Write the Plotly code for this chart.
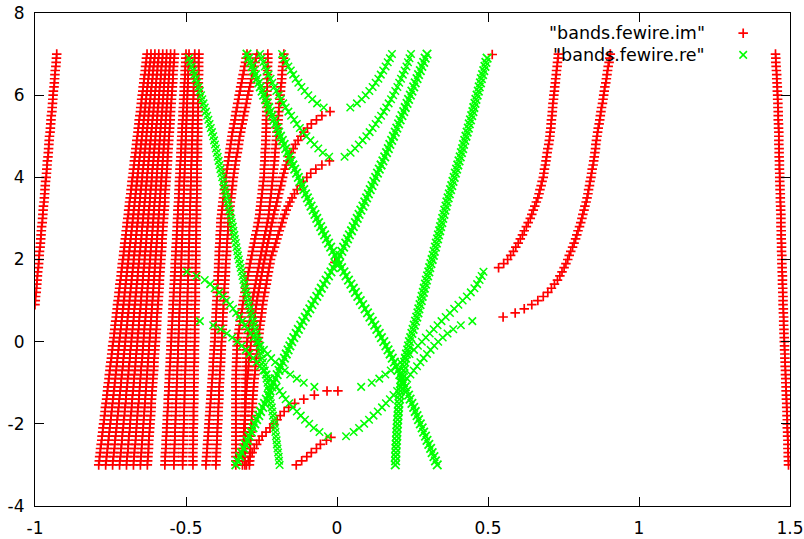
import plotly.graph_objects as go

# ---------------- data ----------------
# energy grid (y axis), shared by all bands
energy = [-3.0, -2.9, -2.8, -2.7, -2.6, -2.5, -2.4, -2.3, -2.2, -2.1,
          -2.0, -1.9, -1.8, -1.7, -1.6, -1.5, -1.4, -1.3, -1.2, -1.1,
          -1.0, -0.9, -0.8, -0.7, -0.6, -0.5, -0.4, -0.3, -0.2, -0.1,
          0.0, 0.1, 0.2, 0.3, 0.4, 0.5, 0.6, 0.7, 0.8, 0.9,
          1.0, 1.1, 1.2, 1.3, 1.4, 1.5, 1.6, 1.7, 1.8, 1.9,
          2.0, 2.1, 2.2, 2.3, 2.4, 2.5, 2.6, 2.7, 2.8, 2.9,
          3.0, 3.1, 3.2, 3.3, 3.4, 3.5, 3.6, 3.7, 3.8, 3.9,
          4.0, 4.1, 4.2, 4.3, 4.4, 4.5, 4.6, 4.7, 4.8, 4.9,
          5.0, 5.1, 5.2, 5.3, 5.4, 5.5, 5.6, 5.7, 5.8, 5.9,
          6.0, 6.1, 6.2, 6.3, 6.4, 6.5, 6.6, 6.7, 6.8, 6.9,
          7.0]

x_ticks = [-1, -0.5, 0, 0.5, 1, 1.5]
x_ticklabels = ["-1", "-0.5", "0", "0.5", "1", "1.5"]
y_ticks = [-4, -2, 0, 2, 4, 6, 8]
y_ticklabels = ["-4", "-2", "0", "2", "4", "6", "8"]

series_names = ['"bands.fewire.im"', '"bands.fewire.re"']

# ---- "bands.fewire.im" (red) : each band = x values starting at the given energy ----
im_R1_from = 0.9
im_R1 = [-1.000, -0.999, -0.998, -0.996, -0.995, -0.994, -0.993, -0.992, -0.991, -0.989,
         -0.988, -0.987, -0.986, -0.985, -0.983, -0.982, -0.981, -0.980, -0.979, -0.978,
         -0.976, -0.975, -0.974, -0.973, -0.972, -0.970, -0.969, -0.968, -0.967, -0.966,
         -0.965, -0.963, -0.962, -0.961, -0.960, -0.959, -0.957, -0.956, -0.955, -0.954,
         -0.953, -0.952, -0.950, -0.949, -0.948, -0.947, -0.946, -0.944, -0.943, -0.942,
         -0.941, -0.940, -0.939, -0.937, -0.936, -0.935, -0.934, -0.933, -0.931, -0.930,
         -0.929, -0.928]

im_A1 = [-0.789, -0.787, -0.786, -0.784, -0.783, -0.781, -0.779, -0.778, -0.776, -0.775,
         -0.773, -0.771, -0.770, -0.768, -0.767, -0.765, -0.763, -0.762, -0.760, -0.759,
         -0.757, -0.755, -0.754, -0.752, -0.751, -0.749, -0.747, -0.746, -0.744, -0.743,
         -0.741, -0.739, -0.738, -0.736, -0.735, -0.733, -0.731, -0.730, -0.728, -0.727,
         -0.725, -0.723, -0.722, -0.720, -0.719, -0.717, -0.715, -0.714, -0.712, -0.711,
         -0.709, -0.707, -0.706, -0.704, -0.703, -0.701, -0.699, -0.698, -0.696, -0.695,
         -0.693, -0.691, -0.690, -0.688, -0.687, -0.685, -0.683, -0.682, -0.680, -0.679,
         -0.677, -0.675, -0.674, -0.672, -0.671, -0.669, -0.667, -0.666, -0.664, -0.663,
         -0.661, -0.659, -0.658, -0.656, -0.655, -0.653, -0.651, -0.650, -0.648, -0.647,
         -0.645, -0.643, -0.642, -0.640, -0.639, -0.637, -0.635, -0.634, -0.632, -0.631,
         -0.629]
im_A2 = [-0.766, -0.764, -0.763, -0.761, -0.760, -0.758, -0.757, -0.755, -0.754, -0.752,
         -0.751, -0.749, -0.748, -0.746, -0.745, -0.743, -0.742, -0.740, -0.739, -0.737,
         -0.736, -0.734, -0.733, -0.731, -0.730, -0.728, -0.727, -0.725, -0.724, -0.722,
         -0.721, -0.719, -0.718, -0.716, -0.715, -0.713, -0.712, -0.710, -0.709, -0.707,
         -0.706, -0.704, -0.703, -0.701, -0.700, -0.698, -0.697, -0.695, -0.694, -0.692,
         -0.691, -0.689, -0.688, -0.686, -0.685, -0.683, -0.682, -0.680, -0.679, -0.677,
         -0.676, -0.674, -0.673, -0.671, -0.670, -0.668, -0.667, -0.665, -0.664, -0.662,
         -0.661, -0.659, -0.658, -0.656, -0.655, -0.653, -0.652, -0.650, -0.649, -0.647,
         -0.646, -0.644, -0.643, -0.641, -0.640, -0.638, -0.637, -0.635, -0.634, -0.632,
         -0.631, -0.629, -0.628, -0.626, -0.625, -0.623, -0.622, -0.620, -0.619, -0.617,
         -0.616]
im_A3 = [-0.743, -0.742, -0.740, -0.739, -0.737, -0.736, -0.735, -0.733, -0.732, -0.730,
         -0.729, -0.728, -0.726, -0.725, -0.723, -0.722, -0.721, -0.719, -0.718, -0.716,
         -0.715, -0.714, -0.712, -0.711, -0.709, -0.708, -0.707, -0.705, -0.704, -0.702,
         -0.701, -0.700, -0.698, -0.697, -0.695, -0.694, -0.693, -0.691, -0.690, -0.688,
         -0.687, -0.686, -0.684, -0.683, -0.681, -0.680, -0.679, -0.677, -0.676, -0.674,
         -0.673, -0.672, -0.670, -0.669, -0.667, -0.666, -0.665, -0.663, -0.662, -0.660,
         -0.659, -0.658, -0.656, -0.655, -0.653, -0.652, -0.651, -0.649, -0.648, -0.646,
         -0.645, -0.644, -0.642, -0.641, -0.639, -0.638, -0.637, -0.635, -0.634, -0.632,
         -0.631, -0.630, -0.628, -0.627, -0.625, -0.624, -0.623, -0.621, -0.620, -0.618,
         -0.617, -0.616, -0.614, -0.613, -0.611, -0.610, -0.609, -0.607, -0.606, -0.604,
         -0.603]
im_A4 = [-0.720, -0.719, -0.717, -0.716, -0.715, -0.713, -0.712, -0.711, -0.710, -0.708,
         -0.707, -0.706, -0.704, -0.703, -0.702, -0.700, -0.699, -0.698, -0.697, -0.695,
         -0.694, -0.693, -0.691, -0.690, -0.689, -0.687, -0.686, -0.685, -0.684, -0.682,
         -0.681, -0.680, -0.678, -0.677, -0.676, -0.674, -0.673, -0.672, -0.671, -0.669,
         -0.668, -0.667, -0.665, -0.664, -0.663, -0.661, -0.660, -0.659, -0.658, -0.656,
         -0.655, -0.654, -0.652, -0.651, -0.650, -0.648, -0.647, -0.646, -0.645, -0.643,
         -0.642, -0.641, -0.639, -0.638, -0.637, -0.635, -0.634, -0.633, -0.632, -0.630,
         -0.629, -0.628, -0.626, -0.625, -0.624, -0.622, -0.621, -0.620, -0.619, -0.617,
         -0.616, -0.615, -0.613, -0.612, -0.611, -0.609, -0.608, -0.607, -0.606, -0.604,
         -0.603, -0.602, -0.600, -0.599, -0.598, -0.596, -0.595, -0.594, -0.593, -0.591,
         -0.590]
im_A5 = [-0.697, -0.696, -0.695, -0.693, -0.692, -0.691, -0.690, -0.689, -0.687, -0.686,
         -0.685, -0.684, -0.683, -0.681, -0.680, -0.679, -0.678, -0.677, -0.675, -0.674,
         -0.673, -0.672, -0.671, -0.669, -0.668, -0.667, -0.666, -0.665, -0.663, -0.662,
         -0.661, -0.660, -0.659, -0.657, -0.656, -0.655, -0.654, -0.653, -0.651, -0.650,
         -0.649, -0.648, -0.647, -0.645, -0.644, -0.643, -0.642, -0.641, -0.639, -0.638,
         -0.637, -0.636, -0.635, -0.633, -0.632, -0.631, -0.630, -0.629, -0.627, -0.626,
         -0.625, -0.624, -0.623, -0.621, -0.620, -0.619, -0.618, -0.617, -0.615, -0.614,
         -0.613, -0.612, -0.611, -0.609, -0.608, -0.607, -0.606, -0.605, -0.603, -0.602,
         -0.601, -0.600, -0.599, -0.597, -0.596, -0.595, -0.594, -0.593, -0.591, -0.590,
         -0.589, -0.588, -0.587, -0.585, -0.584, -0.583, -0.582, -0.581, -0.579, -0.578,
         -0.577]
im_A6 = [-0.674, -0.673, -0.672, -0.671, -0.670, -0.668, -0.667, -0.666, -0.665, -0.664,
         -0.663, -0.662, -0.661, -0.660, -0.659, -0.657, -0.656, -0.655, -0.654, -0.653,
         -0.652, -0.651, -0.650, -0.649, -0.648, -0.646, -0.645, -0.644, -0.643, -0.642,
         -0.641, -0.640, -0.639, -0.638, -0.637, -0.635, -0.634, -0.633, -0.632, -0.631,
         -0.630, -0.629, -0.628, -0.627, -0.626, -0.624, -0.623, -0.622, -0.621, -0.620,
         -0.619, -0.618, -0.617, -0.616, -0.615, -0.613, -0.612, -0.611, -0.610, -0.609,
         -0.608, -0.607, -0.606, -0.605, -0.604, -0.602, -0.601, -0.600, -0.599, -0.598,
         -0.597, -0.596, -0.595, -0.594, -0.593, -0.591, -0.590, -0.589, -0.588, -0.587,
         -0.586, -0.585, -0.584, -0.583, -0.582, -0.580, -0.579, -0.578, -0.577, -0.576,
         -0.575, -0.574, -0.573, -0.572, -0.571, -0.569, -0.568, -0.567, -0.566, -0.565,
         -0.564]
im_A7 = [-0.651, -0.650, -0.649, -0.648, -0.647, -0.646, -0.645, -0.644, -0.643, -0.642,
         -0.641, -0.640, -0.639, -0.638, -0.637, -0.636, -0.635, -0.634, -0.633, -0.632,
         -0.631, -0.630, -0.629, -0.628, -0.627, -0.626, -0.625, -0.624, -0.623, -0.622,
         -0.621, -0.620, -0.619, -0.618, -0.617, -0.616, -0.615, -0.614, -0.613, -0.612,
         -0.611, -0.610, -0.609, -0.608, -0.607, -0.606, -0.605, -0.604, -0.603, -0.602,
         -0.601, -0.600, -0.599, -0.598, -0.597, -0.596, -0.595, -0.594, -0.593, -0.592,
         -0.591, -0.590, -0.589, -0.588, -0.587, -0.586, -0.585, -0.584, -0.583, -0.582,
         -0.581, -0.580, -0.579, -0.578, -0.577, -0.576, -0.575, -0.574, -0.573, -0.572,
         -0.571, -0.570, -0.569, -0.568, -0.567, -0.566, -0.565, -0.564, -0.563, -0.562,
         -0.561, -0.560, -0.559, -0.558, -0.557, -0.556, -0.555, -0.554, -0.553, -0.552,
         -0.551]
im_A8 = [-0.628, -0.627, -0.626, -0.625, -0.624, -0.624, -0.623, -0.622, -0.621, -0.620,
         -0.619, -0.618, -0.617, -0.616, -0.615, -0.615, -0.614, -0.613, -0.612, -0.611,
         -0.610, -0.609, -0.608, -0.607, -0.606, -0.606, -0.605, -0.604, -0.603, -0.602,
         -0.601, -0.600, -0.599, -0.598, -0.597, -0.597, -0.596, -0.595, -0.594, -0.593,
         -0.592, -0.591, -0.590, -0.589, -0.588, -0.588, -0.587, -0.586, -0.585, -0.584,
         -0.583, -0.582, -0.581, -0.580, -0.579, -0.579, -0.578, -0.577, -0.576, -0.575,
         -0.574, -0.573, -0.572, -0.571, -0.570, -0.570, -0.569, -0.568, -0.567, -0.566,
         -0.565, -0.564, -0.563, -0.562, -0.561, -0.561, -0.560, -0.559, -0.558, -0.557,
         -0.556, -0.555, -0.554, -0.553, -0.552, -0.552, -0.551, -0.550, -0.549, -0.548,
         -0.547, -0.546, -0.545, -0.544, -0.543, -0.543, -0.542, -0.541, -0.540, -0.539,
         -0.538]
im_B1 = [-0.570, -0.569, -0.569, -0.568, -0.567, -0.566, -0.566, -0.565, -0.564, -0.564,
         -0.563, -0.562, -0.562, -0.561, -0.560, -0.559, -0.559, -0.558, -0.557, -0.557,
         -0.556, -0.555, -0.555, -0.554, -0.553, -0.552, -0.552, -0.551, -0.550, -0.550,
         -0.549, -0.548, -0.548, -0.547, -0.546, -0.545, -0.545, -0.544, -0.543, -0.543,
         -0.542, -0.541, -0.541, -0.540, -0.539, -0.538, -0.538, -0.537, -0.536, -0.536,
         -0.535, -0.534, -0.534, -0.533, -0.532, -0.531, -0.531, -0.530, -0.529, -0.529,
         -0.528, -0.527, -0.527, -0.526, -0.525, -0.524, -0.524, -0.523, -0.522, -0.522,
         -0.521, -0.520, -0.520, -0.519, -0.518, -0.517, -0.517, -0.516, -0.515, -0.515,
         -0.514, -0.513, -0.513, -0.512, -0.511, -0.510, -0.510, -0.509, -0.508, -0.508,
         -0.507, -0.506, -0.506, -0.505, -0.504, -0.503, -0.503, -0.502, -0.501, -0.501,
         -0.500]
im_B2 = [-0.540, -0.540, -0.539, -0.539, -0.538, -0.538, -0.537, -0.537, -0.536, -0.536,
         -0.535, -0.535, -0.534, -0.534, -0.533, -0.533, -0.532, -0.532, -0.531, -0.531,
         -0.530, -0.530, -0.529, -0.529, -0.528, -0.528, -0.527, -0.527, -0.526, -0.526,
         -0.525, -0.525, -0.524, -0.524, -0.523, -0.523, -0.522, -0.522, -0.521, -0.521,
         -0.520, -0.520, -0.519, -0.519, -0.518, -0.518, -0.517, -0.517, -0.516, -0.516,
         -0.515, -0.515, -0.514, -0.514, -0.513, -0.513, -0.512, -0.512, -0.511, -0.511,
         -0.510, -0.510, -0.509, -0.509, -0.508, -0.508, -0.507, -0.507, -0.506, -0.506,
         -0.505, -0.505, -0.504, -0.504, -0.503, -0.503, -0.502, -0.502, -0.501, -0.501,
         -0.500, -0.500, -0.499, -0.499, -0.498, -0.498, -0.497, -0.497, -0.496, -0.496,
         -0.495, -0.495, -0.494, -0.494, -0.493, -0.493, -0.492, -0.492, -0.491, -0.491,
         -0.490]
im_B3 = [-0.511, -0.511, -0.511, -0.510, -0.510, -0.509, -0.509, -0.509, -0.508, -0.508,
         -0.507, -0.507, -0.507, -0.506, -0.506, -0.505, -0.505, -0.505, -0.504, -0.504,
         -0.503, -0.503, -0.503, -0.502, -0.502, -0.501, -0.501, -0.501, -0.500, -0.500,
         -0.499, -0.499, -0.499, -0.498, -0.498, -0.497, -0.497, -0.497, -0.496, -0.496,
         -0.495, -0.495, -0.495, -0.494, -0.494, -0.493, -0.493, -0.493, -0.492, -0.492,
         -0.491, -0.491, -0.491, -0.490, -0.490, -0.489, -0.489, -0.489, -0.488, -0.488,
         -0.487, -0.487, -0.487, -0.486, -0.486, -0.485, -0.485, -0.485, -0.484, -0.484,
         -0.483, -0.483, -0.483, -0.482, -0.482, -0.481, -0.481, -0.481, -0.480, -0.480,
         -0.479, -0.479, -0.479, -0.478, -0.478, -0.477, -0.477, -0.477, -0.476, -0.476,
         -0.475, -0.475, -0.475, -0.474, -0.474, -0.473, -0.473, -0.473, -0.472, -0.472,
         -0.471]
im_B4 = [-0.477, -0.477, -0.477, -0.477, -0.477, -0.476, -0.476, -0.476, -0.476, -0.476,
         -0.475, -0.475, -0.475, -0.475, -0.475, -0.474, -0.474, -0.474, -0.474, -0.474,
         -0.473, -0.473, -0.473, -0.473, -0.473, -0.472, -0.472, -0.472, -0.472, -0.472,
         -0.471, -0.471, -0.471, -0.471, -0.471, -0.470, -0.470, -0.470, -0.470, -0.470,
         -0.469, -0.469, -0.469, -0.469, -0.469, -0.468, -0.468, -0.468, -0.468, -0.468,
         -0.467, -0.467, -0.467, -0.467, -0.467, -0.466, -0.466, -0.466, -0.466, -0.466,
         -0.465, -0.465, -0.465, -0.465, -0.465, -0.464, -0.464, -0.464, -0.464, -0.464,
         -0.463, -0.463, -0.463, -0.463, -0.463, -0.462, -0.462, -0.462, -0.462, -0.462,
         -0.461, -0.461, -0.461, -0.461, -0.461, -0.460, -0.460, -0.460, -0.460, -0.460,
         -0.459, -0.459, -0.459, -0.459, -0.459, -0.458, -0.458, -0.458, -0.458, -0.458,
         -0.457]
im_C1 = [-0.434, -0.433, -0.432, -0.431, -0.430, -0.429, -0.428, -0.427, -0.426, -0.425,
         -0.424, -0.423, -0.422, -0.421, -0.420, -0.419, -0.418, -0.417, -0.416, -0.415,
         -0.414, -0.413, -0.412, -0.411, -0.410, -0.410, -0.409, -0.408, -0.407, -0.406,
         -0.405, -0.404, -0.404, -0.403, -0.402, -0.401, -0.401, -0.400, -0.399, -0.399,
         -0.398, -0.397, -0.397, -0.396, -0.395, -0.394, -0.394, -0.393, -0.392, -0.392,
         -0.391, -0.390, -0.390, -0.389, -0.388, -0.387, -0.387, -0.386, -0.385, -0.385,
         -0.384, -0.382, -0.381, -0.379, -0.378, -0.376, -0.374, -0.373, -0.371, -0.370,
         -0.368, -0.366, -0.364, -0.362, -0.360, -0.358, -0.356, -0.354, -0.352, -0.350,
         -0.348, -0.346, -0.343, -0.341, -0.338, -0.336, -0.334, -0.331, -0.329, -0.326,
         -0.324, -0.321, -0.319, -0.316, -0.314, -0.311, -0.308, -0.306, -0.303, -0.301,
         -0.298]
im_C2 = [-0.401, -0.400, -0.400, -0.399, -0.399, -0.398, -0.397, -0.397, -0.396, -0.396,
         -0.395, -0.394, -0.394, -0.393, -0.393, -0.392, -0.391, -0.391, -0.390, -0.390,
         -0.389, -0.388, -0.388, -0.387, -0.386, -0.385, -0.385, -0.384, -0.383, -0.383,
         -0.382, -0.381, -0.381, -0.380, -0.379, -0.378, -0.378, -0.377, -0.376, -0.376,
         -0.375, -0.374, -0.373, -0.373, -0.372, -0.371, -0.370, -0.369, -0.369, -0.368,
         -0.367, -0.366, -0.365, -0.365, -0.364, -0.363, -0.362, -0.361, -0.361, -0.360,
         -0.359, -0.357, -0.356, -0.354, -0.353, -0.351, -0.349, -0.348, -0.346, -0.345,
         -0.343, -0.341, -0.339, -0.337, -0.335, -0.333, -0.330, -0.328, -0.326, -0.324,
         -0.322, -0.319, -0.317, -0.314, -0.311, -0.309, -0.306, -0.303, -0.300, -0.298,
         -0.295, -0.292, -0.289, -0.286, -0.283, -0.280, -0.277, -0.274, -0.271, -0.268,
         -0.265]
im_D1 = [-0.335, -0.335, -0.335, -0.335, -0.335, -0.335, -0.335, -0.335, -0.335, -0.335,
         -0.335, -0.335, -0.335, -0.335, -0.335, -0.335, -0.335, -0.335, -0.335, -0.335,
         -0.335, -0.335, -0.334, -0.334, -0.333, -0.333, -0.332, -0.332, -0.331, -0.331,
         -0.330, -0.328, -0.326, -0.324, -0.322, -0.320, -0.318, -0.316, -0.314, -0.312,
         -0.310, -0.308, -0.305, -0.303, -0.300, -0.298, -0.295, -0.293, -0.290, -0.288,
         -0.285, -0.282, -0.280, -0.277, -0.274, -0.272, -0.269, -0.266, -0.263, -0.261,
         -0.258, -0.256, -0.255, -0.253, -0.252, -0.250, -0.248, -0.247, -0.245, -0.244,
         -0.242, -0.241, -0.241, -0.240, -0.239, -0.238, -0.238, -0.237, -0.236, -0.236,
         -0.235, -0.235, -0.234, -0.234, -0.234, -0.233, -0.233, -0.233, -0.232, -0.232,
         -0.232, -0.232, -0.231, -0.231, -0.231, -0.230, -0.230, -0.230, -0.229, -0.229,
         -0.229]
im_D2 = [-0.305, -0.305, -0.305, -0.305, -0.305, -0.305, -0.305, -0.305, -0.305, -0.305,
         -0.305, -0.305, -0.305, -0.304, -0.304, -0.304, -0.304, -0.304, -0.303, -0.303,
         -0.303, -0.303, -0.302, -0.302, -0.301, -0.301, -0.300, -0.300, -0.299, -0.299,
         -0.298, -0.296, -0.294, -0.293, -0.291, -0.289, -0.287, -0.285, -0.284, -0.282,
         -0.280, -0.278, -0.275, -0.273, -0.270, -0.268, -0.265, -0.263, -0.260, -0.258,
         -0.255, -0.252, -0.250, -0.247, -0.244, -0.242, -0.239, -0.236, -0.233, -0.231,
         -0.228, -0.226, -0.225, -0.223, -0.222, -0.220, -0.218, -0.217, -0.215, -0.214,
         -0.212, -0.211, -0.210, -0.208, -0.207, -0.206, -0.205, -0.204, -0.202, -0.201,
         -0.200, -0.199, -0.198, -0.196, -0.195, -0.194, -0.193, -0.192, -0.190, -0.189,
         -0.188, -0.187, -0.186, -0.184, -0.183, -0.182, -0.181, -0.180, -0.178, -0.177,
         -0.176]
im_T1 = [-0.313, -0.312, -0.312, -0.311, -0.311, -0.310, -0.309, -0.309, -0.308, -0.308,
         -0.307, -0.306, -0.305, -0.304, -0.303, -0.303, -0.302, -0.301, -0.300, -0.299,
         -0.298, -0.297, -0.295, -0.294, -0.293, -0.292, -0.290, -0.289, -0.288, -0.286,
         -0.285, -0.283, -0.281, -0.279, -0.277, -0.275, -0.273, -0.271, -0.269, -0.267,
         -0.265, -0.263, -0.260, -0.258, -0.255, -0.253, -0.250, -0.248, -0.245, -0.243,
         -0.240, -0.237, -0.234, -0.232, -0.229, -0.226, -0.223, -0.220, -0.218, -0.215,
         -0.212, -0.209, -0.206, -0.202, -0.199, -0.196, -0.193, -0.190, -0.186, -0.183,
         -0.180, -0.176, -0.172, -0.168, -0.163, -0.158, -0.152, -0.145, -0.138, -0.129,
         -0.120, -0.110, -0.098, -0.085, -0.068, -0.050, -0.023]
im_T2 = [-0.290, -0.289, -0.289, -0.288, -0.288, -0.287, -0.286, -0.286, -0.285, -0.285,
         -0.284, -0.283, -0.282, -0.281, -0.280, -0.280, -0.279, -0.278, -0.277, -0.276,
         -0.275, -0.274, -0.272, -0.271, -0.270, -0.269, -0.267, -0.266, -0.265, -0.263,
         -0.262, -0.260, -0.258, -0.257, -0.255, -0.253, -0.251, -0.249, -0.248, -0.246,
         -0.244, -0.242, -0.239, -0.237, -0.234, -0.232, -0.230, -0.227, -0.225, -0.222,
         -0.220, -0.216, -0.212, -0.207, -0.203, -0.199, -0.195, -0.191, -0.186, -0.182,
         -0.178, -0.173, -0.168, -0.162, -0.156, -0.149, -0.141, -0.132, -0.122, -0.112,
         -0.100, -0.087, -0.070, -0.050, -0.025]
im_L1 = [-0.300, -0.294, -0.288, -0.281, -0.274, -0.266, -0.258, -0.248, -0.235, -0.222,
         -0.210, -0.198, -0.188, -0.175, -0.160, -0.140, -0.110, -0.075, -0.033]
im_L2 = [-0.135, -0.117, -0.100, -0.085, -0.068, -0.055, -0.035]
im_P1_from = 1.8
im_P1 = [0.535, 0.552, 0.565, 0.575, 0.584, 0.592, 0.600, 0.607, 0.614, 0.620,
         0.627, 0.633, 0.640, 0.645, 0.650, 0.655, 0.660, 0.665, 0.669, 0.672,
         0.676, 0.679, 0.683, 0.685, 0.687, 0.690, 0.692, 0.694, 0.696, 0.698,
         0.701, 0.703, 0.705, 0.706, 0.708, 0.709, 0.710, 0.712, 0.713, 0.714,
         0.715, 0.717, 0.718, 0.720, 0.721, 0.723, 0.724, 0.726, 0.727, 0.729,
         0.730, 0.732, 0.733]
im_P2_from = 0.6
im_P2 = [0.550, 0.590, 0.620, 0.645, 0.665, 0.683, 0.698, 0.710, 0.720, 0.730,
         0.738, 0.745, 0.752, 0.758, 0.764, 0.769, 0.774, 0.780, 0.785, 0.790,
         0.794, 0.798, 0.803, 0.807, 0.811, 0.814, 0.818, 0.821, 0.825, 0.828,
         0.831, 0.833, 0.836, 0.838, 0.841, 0.843, 0.845, 0.848, 0.850, 0.852,
         0.854, 0.856, 0.857, 0.859, 0.861, 0.863, 0.865, 0.868, 0.870, 0.872,
         0.874, 0.876, 0.879, 0.881, 0.883, 0.885, 0.887, 0.890, 0.892, 0.894,
         0.896, 0.898, 0.901, 0.903, 0.905]
im_F = [1.495, 1.495, 1.494, 1.494, 1.493, 1.493, 1.493, 1.492, 1.492, 1.491,
        1.491, 1.491, 1.490, 1.490, 1.489, 1.489, 1.488, 1.488, 1.487, 1.487,
        1.486, 1.486, 1.485, 1.485, 1.484, 1.484, 1.483, 1.483, 1.482, 1.482,
        1.481, 1.481, 1.480, 1.480, 1.479, 1.479, 1.479, 1.478, 1.478, 1.477,
        1.477, 1.477, 1.476, 1.476, 1.475, 1.475, 1.475, 1.474, 1.474, 1.473,
        1.473, 1.473, 1.472, 1.472, 1.472, 1.471, 1.471, 1.471, 1.470, 1.470,
        1.470, 1.470, 1.469, 1.469, 1.468, 1.468, 1.468, 1.467, 1.467, 1.466,
        1.466, 1.466, 1.465, 1.465, 1.465, 1.464, 1.464, 1.464, 1.463, 1.463,
        1.463, 1.463, 1.462, 1.462, 1.461, 1.461, 1.461, 1.460, 1.460, 1.459,
        1.459, 1.458, 1.458, 1.457, 1.456, 1.456, 1.455, 1.454, 1.453, 1.453,
        1.452]
# isolated points of the im data
im_single_x = [0.003, -0.007, 0.514, -0.020]
im_single_e = [-1.2, 1.93, 6.99, -2.33]

# ---- "bands.fewire.re" (green) ----
re_G1 = [-0.190, -0.192, -0.193, -0.195, -0.197, -0.199, -0.200, -0.202, -0.204, -0.205,
         -0.207, -0.209, -0.212, -0.214, -0.216, -0.219, -0.221, -0.223, -0.225, -0.228,
         -0.230, -0.233, -0.236, -0.239, -0.242, -0.245, -0.248, -0.251, -0.254, -0.257,
         -0.260, -0.264, -0.267, -0.271, -0.274, -0.278, -0.281, -0.285, -0.288, -0.292,
         -0.295, -0.298, -0.301, -0.304, -0.307, -0.310, -0.313, -0.316, -0.319, -0.322,
         -0.325, -0.328, -0.330, -0.333, -0.335, -0.338, -0.340, -0.343, -0.345, -0.348,
         -0.350, -0.353, -0.356, -0.359, -0.362, -0.365, -0.368, -0.371, -0.374, -0.377,
         -0.380, -0.383, -0.386, -0.389, -0.392, -0.395, -0.398, -0.401, -0.404, -0.407,
         -0.410, -0.414, -0.418, -0.422, -0.426, -0.430, -0.434, -0.438, -0.442, -0.446,
         -0.450, -0.454, -0.459, -0.463, -0.468, -0.472, -0.476, -0.481, -0.486, -0.490]
re_X1 = [0.332, 0.326, 0.321, 0.315, 0.310, 0.304, 0.298, 0.293, 0.287, 0.282,
         0.276, 0.270, 0.265, 0.259, 0.254, 0.248, 0.242, 0.237, 0.231, 0.226,
         0.220, 0.214, 0.208, 0.202, 0.196, 0.190, 0.183, 0.176, 0.169, 0.162,
         0.155, 0.147, 0.140, 0.132, 0.125, 0.117, 0.109, 0.101, 0.093, 0.085,
         0.077, 0.069, 0.061, 0.054, 0.046, 0.038, 0.030, 0.023, 0.015, 0.008,
         0.000, -0.007, -0.014, -0.021, -0.028, -0.035, -0.041, -0.048, -0.054, -0.061,
         -0.067, -0.073, -0.079, -0.086, -0.092, -0.098, -0.104, -0.110, -0.116, -0.122,
         -0.128, -0.134, -0.140, -0.146, -0.152, -0.158, -0.164, -0.170, -0.175, -0.181,
         -0.187, -0.193, -0.198, -0.204, -0.209, -0.215, -0.221, -0.226, -0.232, -0.237,
         -0.243, -0.248, -0.254, -0.259, -0.265, -0.270, -0.276, -0.281, -0.287, -0.292,
         -0.298]
re_X2 = [-0.335, -0.329, -0.322, -0.316, -0.309, -0.303, -0.297, -0.291, -0.284, -0.278,
         -0.272, -0.266, -0.259, -0.253, -0.246, -0.240, -0.234, -0.228, -0.222, -0.216,
         -0.210, -0.204, -0.198, -0.192, -0.186, -0.180, -0.174, -0.168, -0.162, -0.156,
         -0.150, -0.143, -0.135, -0.128, -0.120, -0.113, -0.105, -0.098, -0.090, -0.083,
         -0.075, -0.067, -0.059, -0.052, -0.044, -0.036, -0.028, -0.020, -0.013, -0.005,
         0.003, 0.009, 0.016, 0.022, 0.029, 0.035, 0.041, 0.048, 0.054, 0.061,
         0.067, 0.073, 0.079, 0.086, 0.092, 0.098, 0.104, 0.110, 0.116, 0.122,
         0.128, 0.134, 0.140, 0.146, 0.152, 0.158, 0.164, 0.170, 0.175, 0.181,
         0.187, 0.193, 0.198, 0.204, 0.209, 0.215, 0.221, 0.226, 0.232, 0.237,
         0.243, 0.248, 0.254, 0.259, 0.265, 0.270, 0.276, 0.281, 0.287, 0.292,
         0.298]
re_S = [0.193, 0.194, 0.194, 0.195, 0.195, 0.196, 0.197, 0.198, 0.198, 0.199,
        0.200, 0.201, 0.202, 0.203, 0.204, 0.205, 0.207, 0.208, 0.210, 0.211,
        0.213, 0.215, 0.217, 0.220, 0.222, 0.224, 0.227, 0.230, 0.234, 0.237,
        0.240, 0.244, 0.248, 0.252, 0.256, 0.260, 0.264, 0.268, 0.271, 0.275,
        0.279, 0.282, 0.286, 0.289, 0.293, 0.296, 0.300, 0.304, 0.307, 0.311,
        0.315, 0.319, 0.322, 0.326, 0.329, 0.333, 0.336, 0.340, 0.343, 0.347,
        0.350, 0.354, 0.357, 0.361, 0.364, 0.368, 0.372, 0.376, 0.380, 0.384,
        0.388, 0.392, 0.396, 0.400, 0.404, 0.408, 0.412, 0.416, 0.419, 0.423,
        0.427, 0.431, 0.435, 0.438, 0.442, 0.446, 0.450, 0.453, 0.457, 0.460,
        0.464, 0.468, 0.471, 0.475, 0.478, 0.482, 0.486, 0.490, 0.493, 0.497]
re_U1_from = 4.5
re_U1L = [-0.026, -0.047, -0.062, -0.075, -0.088, -0.101, -0.112, -0.123, -0.133, -0.142,
          -0.152, -0.161, -0.170, -0.178, -0.186, -0.193, -0.201, -0.208, -0.214, -0.220,
          -0.227, -0.233, -0.239, -0.244, -0.250, -0.255]
re_U1R = [0.025, 0.045, 0.060, 0.072, 0.085, 0.097, 0.108, 0.118, 0.128, 0.137,
          0.146, 0.155, 0.163, 0.171, 0.179, 0.186, 0.193, 0.200, 0.206, 0.212,
          0.218, 0.224, 0.230, 0.235, 0.240, 0.245]
re_U2_from = 5.7
re_U2L = [-0.044, -0.066, -0.082, -0.095, -0.107, -0.118, -0.128, -0.137, -0.145, -0.153,
          -0.161, -0.168, -0.175, -0.182]
re_U2R = [0.044, 0.066, 0.082, 0.095, 0.107, 0.118, 0.128, 0.137, 0.145, 0.153,
          0.161, 0.168, 0.175, 0.182]
re_V1_from = -1.1
re_V1L = [-0.075, -0.110, -0.133, -0.155, -0.173, -0.190, -0.205, -0.218, -0.230, -0.242,
          -0.254, -0.265, -0.276, -0.286, -0.296, -0.305, -0.314, -0.324, -0.334, -0.344,
          -0.355, -0.366, -0.378, -0.390, -0.405, -0.420, -0.438, -0.465, -0.497]
re_V1R = [0.080, 0.115, 0.140, 0.160, 0.178, 0.195, 0.210, 0.225, 0.240, 0.255,
          0.268, 0.281, 0.294, 0.307, 0.320, 0.333, 0.346, 0.360, 0.374, 0.388,
          0.402, 0.416, 0.430, 0.443, 0.455, 0.464, 0.472, 0.479, 0.485]
re_V2_from = -2.3
re_V2L = [-0.030, -0.058, -0.077, -0.092, -0.106, -0.120, -0.133, -0.146, -0.158, -0.170,
          -0.180, -0.190, -0.200, -0.211, -0.222, -0.233, -0.244, -0.255, -0.266, -0.278,
          -0.290, -0.302, -0.315, -0.330, -0.347, -0.365, -0.385, -0.410, -0.454]
re_V2R = [0.030, 0.055, 0.073, 0.090, 0.106, 0.121, 0.135, 0.149, 0.162, 0.175,
          0.187, 0.199, 0.210, 0.221, 0.232, 0.243, 0.254, 0.265, 0.276, 0.287,
          0.298, 0.310, 0.322, 0.335, 0.350, 0.366, 0.385, 0.410, 0.448]

# ---------------- assembly ----------------
im_bands = [(im_R1_from, im_R1), (-3.0, im_A1), (-3.0, im_A2), (-3.0, im_A3), (-3.0, im_A4),
            (-3.0, im_A5), (-3.0, im_A6), (-3.0, im_A7), (-3.0, im_A8),
            (-3.0, im_B1), (-3.0, im_B2), (-3.0, im_B3), (-3.0, im_B4),
            (-3.0, im_C1), (-3.0, im_C2), (-3.0, im_D1), (-3.0, im_D2),
            (-3.0, im_T1), (-3.0, im_T2), (-3.0, im_L1), (-3.0, im_L2),
            (im_P1_from, im_P1), (im_P2_from, im_P2), (-3.0, im_F)]
re_thin_bands = [(-3.0, re_G1), (re_U1_from, re_U1L), (re_U1_from, re_U1R),
                 (re_U2_from, re_U2L), (re_U2_from, re_U2R),
                 (re_V1_from, re_V1L), (re_V1_from, re_V1R),
                 (re_V2_from, re_V2L), (re_V2_from, re_V2R)]
re_thick_bands = [(-3.0, re_X1), (-3.0, re_X2), (-3.0, re_S)]


def collect(bands):
    xs, ys = [], []
    for e0, band in bands:
        i = int(round((e0 - energy[0]) * 10))
        e = energy[i:i + len(band)]
        xs += band[:len(e)]
        ys += e
    return xs, ys


im_x, im_y = collect(im_bands)
im_x += im_single_x
im_y += im_single_e
re_x1, re_y1 = collect(re_thin_bands)
re_x2, re_y2 = collect(re_thick_bands)

RED = "#ff0000"
GREEN = "#00ff00"
FONT = "DejaVu Sans"

plus_marker = dict(symbol="cross-thin", size=6.8, color=RED, line=dict(color=RED, width=1.7))
x_marker = dict(symbol="x-thin", size=7.5, color=GREEN, line=dict(color=GREEN, width=1.5))
x_marker_thick = dict(symbol="x-thin", size=8.5, color=GREEN, line=dict(color=GREEN, width=1.8))

fig = go.Figure()
fig.add_trace(go.Scatter(x=im_x, y=im_y, mode="markers", marker=plus_marker,
                         name=series_names[0], showlegend=False, hoverinfo="skip"))
fig.add_trace(go.Scatter(x=re_x1, y=re_y1, mode="markers", marker=x_marker,
                         name=series_names[1], showlegend=False, hoverinfo="skip"))
fig.add_trace(go.Scatter(x=re_x2, y=re_y2, mode="markers", marker=x_marker_thick,
                         name=series_names[1], showlegend=False, hoverinfo="skip"))

# legend (gnuplot style: text then sample) on an overlay axis spanning the plot area
legend_text_x = 0.890
legend_sample_x = 0.938
legend_rows_y = [0.959, 0.915]
fig.add_trace(go.Scatter(x=[legend_sample_x], y=[legend_rows_y[0]], mode="markers",
                         marker=plus_marker, xaxis="x2", yaxis="y2",
                         showlegend=False, hoverinfo="skip"))
fig.add_trace(go.Scatter(x=[legend_sample_x], y=[legend_rows_y[1]], mode="markers",
                         marker=x_marker, xaxis="x2", yaxis="y2",
                         showlegend=False, hoverinfo="skip"))
for name, yy in zip(series_names, legend_rows_y):
    fig.add_annotation(x=legend_text_x, y=yy, xref="paper", yref="paper",
                       text=name, showarrow=False, xanchor="right", yanchor="middle",
                       font=dict(family=FONT, size=17.5, color="black"))

axis_common = dict(showline=True, linecolor="black", linewidth=1.2, mirror="allticks",
                   ticks="inside", ticklen=9, tickwidth=1, tickcolor="black",
                   showgrid=False, zeroline=False, automargin=False,
                   tickfont=dict(family=FONT, size=17, color="black"))

fig.update_layout(
    width=804, height=539,
    margin=dict(l=35, r=14, t=13, b=33, autoexpand=False),
    paper_bgcolor="white", plot_bgcolor="white",
    showlegend=False, hovermode=False,
    xaxis=dict(range=[-1, 1.5], tickvals=x_ticks, ticktext=x_ticklabels,
               ticklabelstandoff=6, **axis_common),
    yaxis=dict(range=[-4, 8], tickvals=y_ticks, ticktext=y_ticklabels,
               ticklabelstandoff=6, **axis_common),
    xaxis2=dict(overlaying="x", range=[0, 1], visible=False, fixedrange=True),
    yaxis2=dict(overlaying="y", range=[0, 1], visible=False, fixedrange=True),
)

fig.write_html("out.html")
